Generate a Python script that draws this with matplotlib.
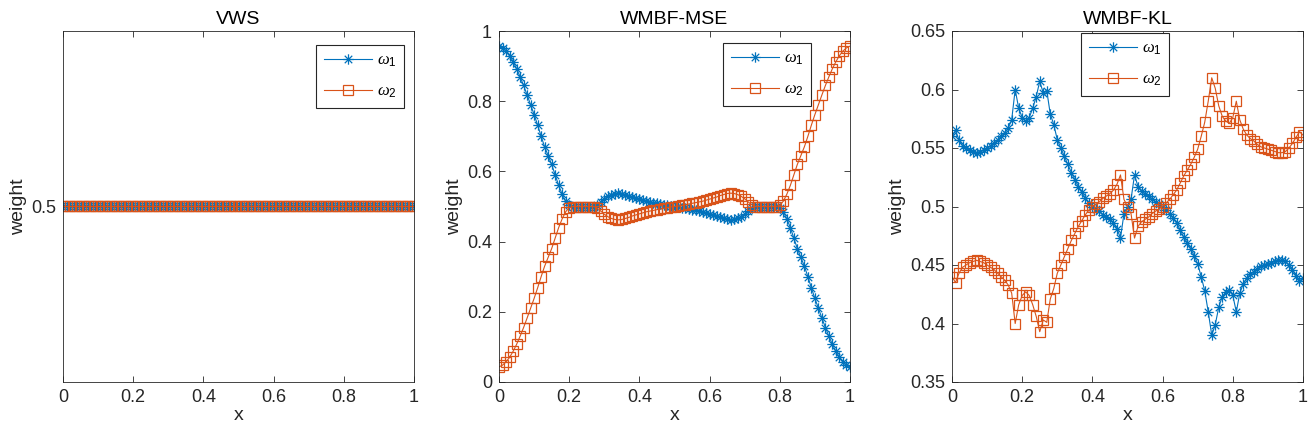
import numpy as np
import matplotlib
matplotlib.use("Agg")
import matplotlib.pyplot as plt
from matplotlib.path import Path
from matplotlib.ticker import FormatStrFormatter

# sample points on [0, 1]
x = np.linspace(0, 1, 101)

# VWS: equal weights everywhere
vws_w1 = [0.5] * 101
vws_w2 = [0.5] * 101

# WMBF-MSE weights (step 0.01)
mse_w1 = [
    0.957, 0.952, 0.943, 0.930, 0.913, 0.893, 0.870, 0.845, 0.818, 0.790,
    0.762, 0.732, 0.700, 0.670, 0.645, 0.620, 0.590, 0.560, 0.535, 0.515,
    0.503, 0.500, 0.500, 0.500, 0.500, 0.500, 0.500, 0.500, 0.505, 0.513,
    0.522, 0.529, 0.534, 0.537, 0.538, 0.537, 0.534, 0.531, 0.527, 0.524,
    0.521, 0.518, 0.515, 0.513, 0.511, 0.509, 0.507, 0.505, 0.503, 0.501,
    0.500, 0.499, 0.497, 0.495, 0.493, 0.491, 0.489, 0.487, 0.485, 0.482,
    0.479, 0.476, 0.473, 0.469, 0.466, 0.463, 0.462, 0.463, 0.466, 0.471,
    0.478, 0.487, 0.495, 0.500, 0.500, 0.500, 0.500, 0.500, 0.500, 0.500,
    0.497, 0.485, 0.465, 0.440, 0.410, 0.380, 0.355, 0.330, 0.300, 0.268,
    0.238, 0.210, 0.182, 0.155, 0.130, 0.107, 0.087, 0.070, 0.057, 0.048,
    0.043,
]
mse_w2 = [
    0.043, 0.048, 0.057, 0.070, 0.087, 0.107, 0.130, 0.155, 0.182, 0.210,
    0.238, 0.268, 0.300, 0.330, 0.355, 0.380, 0.410, 0.440, 0.465, 0.485,
    0.497, 0.500, 0.500, 0.500, 0.500, 0.500, 0.500, 0.500, 0.495, 0.487,
    0.478, 0.471, 0.466, 0.463, 0.462, 0.463, 0.466, 0.469, 0.473, 0.476,
    0.479, 0.482, 0.485, 0.487, 0.489, 0.491, 0.493, 0.495, 0.497, 0.499,
    0.500, 0.501, 0.503, 0.505, 0.507, 0.509, 0.511, 0.513, 0.515, 0.518,
    0.521, 0.524, 0.527, 0.531, 0.534, 0.537, 0.538, 0.537, 0.534, 0.529,
    0.522, 0.513, 0.505, 0.500, 0.500, 0.500, 0.500, 0.500, 0.500, 0.500,
    0.503, 0.515, 0.535, 0.560, 0.590, 0.620, 0.645, 0.670, 0.700, 0.732,
    0.762, 0.790, 0.818, 0.845, 0.870, 0.893, 0.913, 0.930, 0.943, 0.952,
    0.957,
]

# WMBF-KL weights (step 0.01)
kl_w1 = [
    0.560, 0.565, 0.557, 0.552, 0.550, 0.548, 0.547, 0.546, 0.547, 0.548,
    0.550, 0.552, 0.554, 0.557, 0.560, 0.563, 0.567, 0.574, 0.600, 0.584,
    0.576, 0.573, 0.576, 0.584, 0.594, 0.607, 0.597, 0.599, 0.579, 0.570,
    0.557, 0.550, 0.543, 0.536, 0.529, 0.523, 0.517, 0.512, 0.507, 0.503,
    0.500, 0.498, 0.496, 0.493, 0.491, 0.489, 0.486, 0.481, 0.473, 0.494,
    0.500, 0.506, 0.527, 0.517, 0.513, 0.511, 0.509, 0.506, 0.504, 0.502,
    0.500, 0.497, 0.494, 0.490, 0.486, 0.480, 0.474, 0.469, 0.464, 0.458,
    0.451, 0.440, 0.428, 0.410, 0.390, 0.399, 0.414, 0.423, 0.427, 0.429,
    0.424, 0.410, 0.426, 0.434, 0.439, 0.442, 0.444, 0.447, 0.449, 0.450,
    0.451, 0.452, 0.453, 0.454, 0.454, 0.453, 0.450, 0.446, 0.441, 0.436,
    0.439,
]
kl_w2 = [
    0.440, 0.435, 0.443, 0.448, 0.450, 0.452, 0.453, 0.454, 0.453, 0.452,
    0.450, 0.448, 0.446, 0.443, 0.440, 0.437, 0.433, 0.426, 0.400, 0.416,
    0.424, 0.427, 0.424, 0.416, 0.406, 0.393, 0.403, 0.401, 0.421, 0.430,
    0.443, 0.450, 0.457, 0.464, 0.471, 0.477, 0.483, 0.488, 0.493, 0.497,
    0.500, 0.502, 0.504, 0.507, 0.509, 0.511, 0.514, 0.519, 0.527, 0.506,
    0.500, 0.494, 0.473, 0.483, 0.487, 0.489, 0.491, 0.494, 0.496, 0.498,
    0.500, 0.503, 0.506, 0.510, 0.514, 0.520, 0.526, 0.531, 0.536, 0.542,
    0.549, 0.560, 0.572, 0.590, 0.610, 0.601, 0.586, 0.577, 0.573, 0.571,
    0.576, 0.590, 0.574, 0.566, 0.561, 0.558, 0.556, 0.553, 0.551, 0.550,
    0.549, 0.548, 0.547, 0.546, 0.546, 0.547, 0.550, 0.554, 0.559, 0.564,
    0.561,
]

panels = [
    ("VWS", vws_w1, vws_w2, (0.4, 0.6), [0.5]),
    ("WMBF-MSE", mse_w1, mse_w2, (0, 1), [0, 0.2, 0.4, 0.6, 0.8, 1]),
    ("WMBF-KL", kl_w1, kl_w2, (0.35, 0.65),
     [0.35, 0.4, 0.45, 0.5, 0.55, 0.6, 0.65]),
]

BLUE = "#0072BD"
ORANGE = "#D95319"
GRAY = "#262626"
W, H = 1313, 438

# MATLAB-style asterisk marker
asterisk = Path(
    [(-1, 0), (1, 0), (0, -1), (0, 1),
     (-0.72, -0.72), (0.72, 0.72), (-0.72, 0.72), (0.72, -0.72)],
    [Path.MOVETO, Path.LINETO] * 4,
)

plt.rcParams["font.family"] = ["Liberation Sans", "DejaVu Sans"]
plt.rcParams["mathtext.fontset"] = "custom"
plt.rcParams["mathtext.it"] = "Liberation Serif:italic"
plt.rcParams["mathtext.rm"] = "Liberation Sans"

fig = plt.figure(figsize=(W / 100, H / 100), dpi=100)
ax_left_px = [63, 499, 952]
legend_px = [(316, 45), (723, 43), (1081, 33)]   # legend top-left corners

for left, (lx, ly), (title, w1, w2, ylim, yticks) in zip(ax_left_px, legend_px, panels):
    ax = fig.add_axes([left / W, 1 - 382 / H, 351 / W, 351 / H])
    ax.plot(x, w1, color=BLUE, lw=0.8, marker=asterisk, ms=7.5,
            mfc="none", mew=0.9, label=r"$\omega_{\mathrm{1}}$")
    ax.plot(x, w2, color=ORANGE, lw=0.8, marker="s", ms=7,
            mfc="none", mew=0.9, label=r"$\omega_{\mathrm{2}}$")
    ax.set_xlim(0, 1)
    ax.set_ylim(*ylim)
    ax.set_xticks([0, 0.2, 0.4, 0.6, 0.8, 1])
    ax.set_yticks(yticks)
    ax.xaxis.set_major_formatter(FormatStrFormatter("%g"))
    ax.yaxis.set_major_formatter(FormatStrFormatter("%g"))
    ax.tick_params(direction="in", length=4, width=0.6, top=True, right=True,
                   labelsize=13, colors=GRAY, pad=5)
    for sp in ax.spines.values():
        sp.set_color(GRAY)
        sp.set_linewidth(0.6)
    ax.set_title(title, fontsize=14, color="black", pad=5)
    ax.set_xlabel("x", fontsize=14, color=GRAY, labelpad=1)
    ax.set_ylabel("weight", fontsize=14, color=GRAY, labelpad=3)
    leg = ax.legend(loc="upper left", bbox_to_anchor=(lx / W, 1 - ly / H),
                    bbox_transform=fig.transFigure, fontsize=12,
                    handlelength=2.9, handletextpad=0.3, fancybox=False,
                    framealpha=1, edgecolor=GRAY, borderaxespad=0,
                    borderpad=0.45, labelspacing=0.9)
    leg.get_frame().set_linewidth(0.8)

fig.savefig("out.png", dpi=100)
